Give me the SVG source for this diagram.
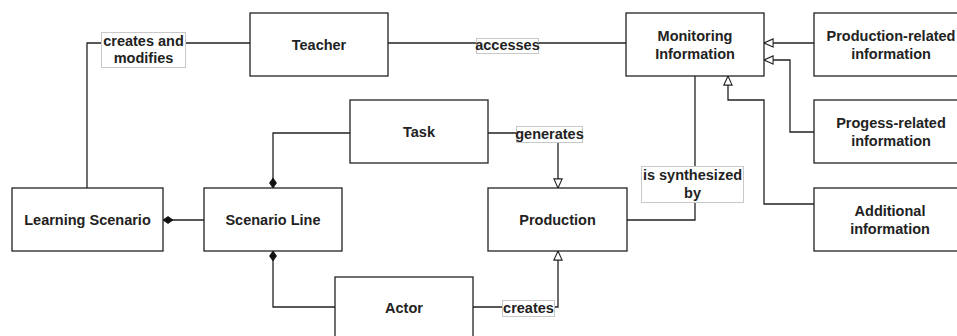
<svg xmlns="http://www.w3.org/2000/svg" width="957" height="336" viewBox="0 0 957 336">
<style>
.box{fill:#fff;stroke:#222;stroke-width:1.3}
.t{font-family:"Liberation Sans",Arial,sans-serif;font-weight:bold;font-size:14.5px;fill:#222;text-anchor:middle;dominant-baseline:central}
.lbl{fill:#fff;stroke:#c8c8c8;stroke-width:1}
.c{fill:none;stroke:#222;stroke-width:1.3}
</style>
<defs>
<marker id="tri" markerUnits="userSpaceOnUse" markerWidth="12" markerHeight="10" refX="10" refY="4.5" orient="auto" viewBox="-1 -1 12 11">
<path d="M0,0 L10,4.5 L0,9 z" fill="#fff" stroke="#222" stroke-width="1.2"/>
</marker>
<marker id="dia" markerUnits="userSpaceOnUse" markerWidth="12" markerHeight="9" refX="0" refY="3.5" orient="auto" viewBox="-1 -1 12 9">
<path d="M0,3.5 L5,0 L10,3.5 L5,7 z" fill="#111" stroke="#111" stroke-width="0.8"/>
</marker>
</defs>
<rect width="957" height="336" fill="#fff"/>
<g id="connectors">
<path class="c" d="M250,43 H87 V188"/>
<path class="c" d="M388,43 H626"/>
<path class="c" d="M273,188 V133 H350" marker-start="url(#dia)"/>
<path class="c" d="M163,220 H204" marker-start="url(#dia)"/>
<path class="c" d="M273,251 V307 H335" marker-start="url(#dia)"/>
<path class="c" d="M488,133 H558 V188" marker-end="url(#tri)"/>
<path class="c" d="M473,307 H558 V251" marker-end="url(#tri)"/>
<path class="c" d="M627,220 H695 V76"/>
<path class="c" d="M814,43 H764" marker-end="url(#tri)"/>
<path class="c" d="M814,132 H790 V60 H764" marker-end="url(#tri)"/>
<path class="c" d="M814,204 H764 V100 H728 V76" marker-end="url(#tri)"/>
<g id="label-creates-modifies">
<rect class="lbl" x="101.5" y="32.5" width="84" height="35"/>
<text class="t" x="143.5" y="40.5">creates and</text>
<text class="t" x="143.5" y="58">modifies</text>
</g>
<g id="label-accesses">
<rect class="lbl" x="476.5" y="38.5" width="62" height="15"/>
<text class="t" x="507.5" y="45">accesses</text>
</g>
<g id="label-generates">
<rect class="lbl" x="516.5" y="126.5" width="66" height="16"/>
<text class="t" x="549.5" y="134">generates</text>
</g>
<g id="label-creates">
<rect class="lbl" x="502.5" y="300.5" width="52" height="16"/>
<text class="t" x="528.5" y="308">creates</text>
</g>
<g id="label-synth">
<rect class="lbl" x="641.5" y="166.5" width="102" height="36"/>
<text class="t" x="692.5" y="175">is synthesized</text>
<text class="t" x="692.5" y="193">by</text>
</g>
</g>
<g id="teacher">
<rect class="box" x="250" y="13" width="138" height="63"/>
<text class="t" x="319" y="44.5">Teacher</text>
</g>
<g id="monitoring">
<rect class="box" x="626" y="13" width="138" height="63"/>
<text class="t" x="695" y="36">Monitoring</text>
<text class="t" x="695" y="54">Information</text>
</g>
<g id="production-related">
<rect class="box" x="814" y="13" width="154" height="63"/>
<text class="t" x="891" y="36">Production-related</text>
<text class="t" x="891" y="54">information</text>
</g>
<g id="progress-related">
<rect class="box" x="814" y="100" width="154" height="63"/>
<text class="t" x="891" y="123">Progess-related</text>
<text class="t" x="891" y="141">information</text>
</g>
<g id="additional">
<rect class="box" x="814" y="188" width="154" height="63"/>
<text class="t" x="890" y="211">Additional</text>
<text class="t" x="890" y="229">information</text>
</g>
<g id="task">
<rect class="box" x="350" y="100" width="138" height="63"/>
<text class="t" x="419" y="132">Task</text>
</g>
<g id="learning-scenario">
<rect class="box" x="12" y="188" width="151" height="63"/>
<text class="t" x="87.5" y="220">Learning Scenario</text>
</g>
<g id="scenario-line">
<rect class="box" x="204" y="188" width="138" height="63"/>
<text class="t" x="273" y="220">Scenario Line</text>
</g>
<g id="production">
<rect class="box" x="488" y="188" width="139" height="63"/>
<text class="t" x="557.5" y="220">Production</text>
</g>
<g id="actor">
<rect class="box" x="335" y="277" width="138" height="63"/>
<text class="t" x="404" y="308">Actor</text>
</g>
</svg>
